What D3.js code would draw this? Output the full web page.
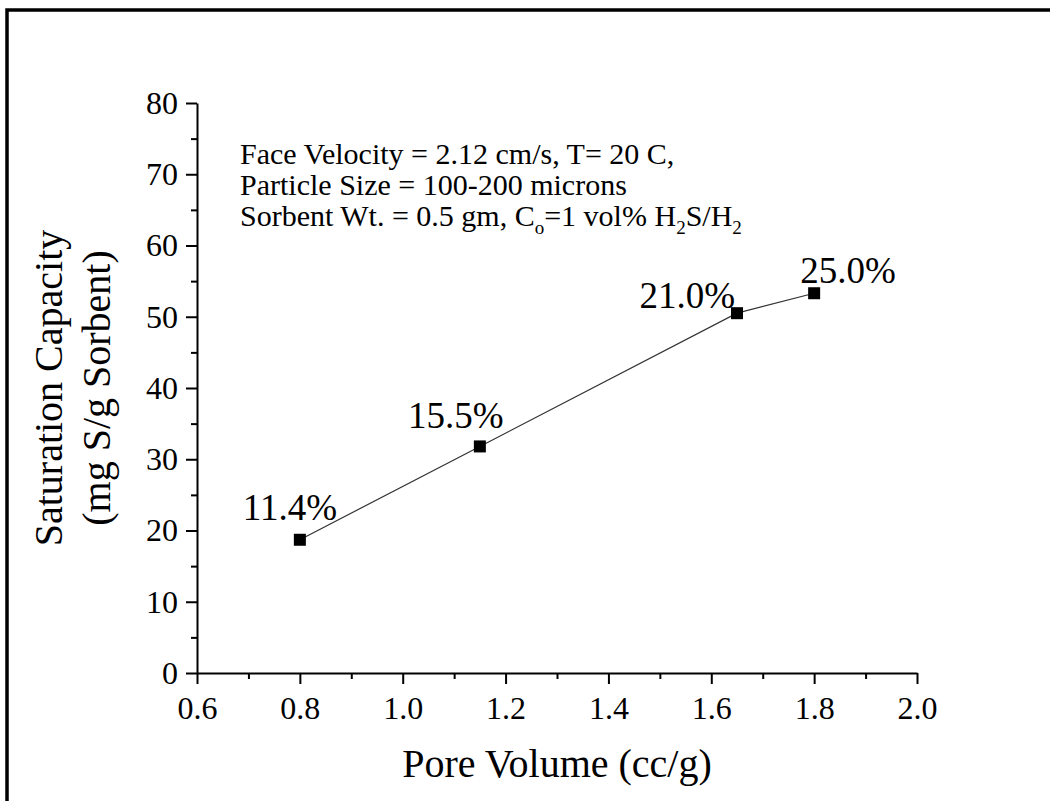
<!DOCTYPE html>
<html>
<head>
<meta charset="utf-8">
<script src="https://cdn.jsdelivr.net/npm/d3@7"></script>
<style>
  body { margin: 0; background: #fff; }
  text { font-family: "Liberation Serif", "Times New Roman", serif; fill: #000; }
</style>
</head>
<body>
<div class="my_dataviz"></div>
<script>
// data
const poreVolume = [0.8, 1.15, 1.65, 1.8]
const capacity = [18.7, 31.8, 50.5, 53.3]
const pointLabels = ['11.4%', '15.5%', '21.0%', '25.0%']
const xTicks = [0.6, 0.8, 1.0, 1.2, 1.4, 1.6, 1.8, 2.0]
const yTicks = [0, 10, 20, 30, 40, 50, 60, 70, 80]

let width = 1050, height = 801
let margin = {top: 103, right: 133, bottom: 128, left: 197}

let svg = d3.select(".my_dataviz")
            .append("svg")
            .attr("width", width)
            .attr("height", height)

svg.append("rect")
   .attr("width", width).attr("height", height)
   .attr("fill", "#fff")

// frame, cut off on the right and bottom like the picture
svg.append("rect")
   .attr("x", 7).attr("y", 10)
   .attr("width", 1100).attr("height", 900)
   .attr("fill", "none")
   .attr("stroke", "#000")
   .attr("stroke-width", 3.5)

let x = d3.scaleLinear()
          .domain([0.6, 2.0])
          .range([margin.left, width - margin.right])

let y = d3.scaleLinear()
          .domain([0, 80])
          .range([height - margin.bottom, margin.top])

// minor ticks first
svg.append("g")
   .attr("transform", "translate(0," + y(0) + ")")
   .call(d3.axisBottom(x).tickValues(d3.range(0.7, 2.0, 0.2)).tickSize(6).tickFormat(""))
   .call(g => g.select(".domain").remove())

svg.append("g")
   .attr("transform", "translate(" + x(0.6) + ",0)")
   .call(d3.axisLeft(y).tickValues(d3.range(5, 80, 10)).tickSize(6).tickFormat(""))
   .call(g => g.select(".domain").remove())

let xAxis = svg.append("g")
   .attr("transform", "translate(0," + y(0) + ")")
   .call(d3.axisBottom(x).tickValues(xTicks).tickSize(11).tickSizeOuter(0).tickPadding(12)
           .tickFormat(d3.format(".1f")))

let yAxis = svg.append("g")
   .attr("transform", "translate(" + x(0.6) + ",0)")
   .call(d3.axisLeft(y).tickValues(yTicks).tickSize(11).tickSizeOuter(0).tickPadding(8))

svg.selectAll(".tick line").attr("stroke", "#000").attr("stroke-width", 2)
svg.selectAll(".domain").attr("stroke", "#000").attr("stroke-width", 2)
svg.selectAll(".tick text").style("font-size", "32px").attr("fill", "#000")
   .style("font-family", "'Liberation Serif', serif")

// axis titles
svg.append("text")
   .attr("x", (x(0.6) + x(2.0)) / 2)
   .attr("y", 777)
   .attr("text-anchor", "middle")
   .style("font-size", "40px")
   .text("Pore Volume (cc/g)")

let yTitle = svg.append("text")
   .attr("transform", "translate(0," + (y(0) + y(80)) / 2 + ") rotate(-90)")
   .attr("text-anchor", "middle")
   .style("font-size", "40px")
yTitle.append("tspan").attr("x", 0).attr("y", 62).text("Saturation Capacity")
yTitle.append("tspan").attr("x", 0).attr("y", 110).text("(mg S/g Sorbent)")

// connecting line and square markers
let line = d3.line()
   .x((d, i) => x(poreVolume[i]))
   .y(d => y(d))

svg.append("path")
   .datum(capacity)
   .attr("d", line)
   .attr("fill", "none")
   .attr("stroke", "#333")
   .attr("stroke-width", 1.2)

svg.append("g")
   .selectAll("rect")
   .data(capacity)
   .enter()
   .append("rect")
   .attr("x", (d, i) => x(poreVolume[i]) - 6)
   .attr("y", d => y(d) - 6)
   .attr("width", 12)
   .attr("height", 12)
   .attr("fill", "#000")

// percent labels: nudges so they sit like the picture
let nudgeX = [-10, -24, -2, -14]
let nudgeY = [-20, -18, -5, -10]
let anchors = ["middle", "middle", "end", "start"]

svg.append("g")
   .selectAll("text")
   .data(capacity)
   .enter()
   .append("text")
   .attr("x", (d, i) => x(poreVolume[i]) + nudgeX[i])
   .attr("y", (d, i) => y(d) + nudgeY[i])
   .attr("text-anchor", (d, i) => anchors[i])
   .style("font-size", "37px")
   .text((d, i) => pointLabels[i])

// conditions note
let note = svg.append("text")
   .attr("x", 240)
   .style("font-size", "30px")
note.append("tspan").attr("x", 240).attr("y", 164).text("Face Velocity = 2.12 cm/s, T= 20 C,")
note.append("tspan").attr("x", 240).attr("y", 195).text("Particle Size = 100-200 microns")
let l3 = note.append("tspan").attr("x", 240).attr("y", 226)
l3.append("tspan").text("Sorbent Wt. = 0.5 gm, C")
l3.append("tspan").attr("dy", 8).style("font-size", "19px").text("o")
l3.append("tspan").attr("dy", -8).text("=1 vol% H")
l3.append("tspan").attr("dy", 8).style("font-size", "19px").text("2")
l3.append("tspan").attr("dy", -8).text("S/H")
l3.append("tspan").attr("dy", 8).style("font-size", "19px").text("2")
</script>
</body>
</html>
